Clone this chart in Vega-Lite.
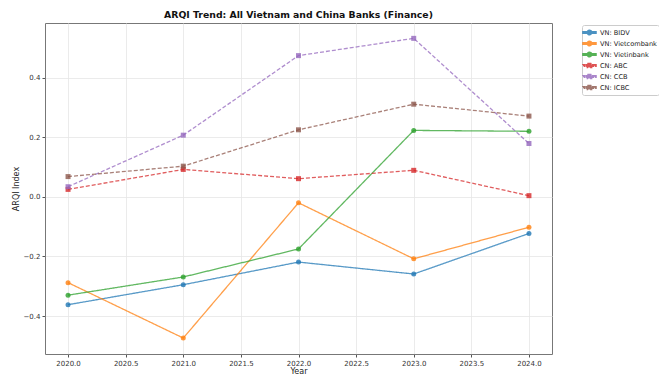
{
  "$schema": "https://vega.github.io/schema/vega-lite/v6.json",
  "width": 507,
  "height": 331,
  "autosize": {"type": "none"},
  "padding": {"left": 45, "top": 23, "right": 107, "bottom": 20},
  "background": "white",
  "config": {
    "font": "DejaVu Sans",
    "view": {"stroke": "#777", "strokeWidth": 1},
    "axis": {"labelFontSize": 7, "labelColor": "#333", "titleFontSize": 8, "titleFontWeight": "normal", "titleColor": "#222", "gridColor": "#e6e6e6", "gridWidth": 0.8, "domain": false, "tickColor": "#555", "tickSize": 3}
  },
  "title": {"text": "ARQI Trend: All Vietnam and China Banks (Finance)", "fontSize": 9.3, "fontWeight": "bold", "anchor": "middle", "offset": 3, "color": "#111"},
  "data": {"values": [
    {"Year": 2020, "Bank": "VN: BIDV", "ARQI": -0.362},
    {"Year": 2021, "Bank": "VN: BIDV", "ARQI": -0.295},
    {"Year": 2022, "Bank": "VN: BIDV", "ARQI": -0.219},
    {"Year": 2023, "Bank": "VN: BIDV", "ARQI": -0.259},
    {"Year": 2024, "Bank": "VN: BIDV", "ARQI": -0.123},
    {"Year": 2020, "Bank": "VN: Vietcombank", "ARQI": -0.288},
    {"Year": 2021, "Bank": "VN: Vietcombank", "ARQI": -0.474},
    {"Year": 2022, "Bank": "VN: Vietcombank", "ARQI": -0.020},
    {"Year": 2023, "Bank": "VN: Vietcombank", "ARQI": -0.208},
    {"Year": 2024, "Bank": "VN: Vietcombank", "ARQI": -0.102},
    {"Year": 2020, "Bank": "VN: Vietinbank", "ARQI": -0.330},
    {"Year": 2021, "Bank": "VN: Vietinbank", "ARQI": -0.269},
    {"Year": 2022, "Bank": "VN: Vietinbank", "ARQI": -0.175},
    {"Year": 2023, "Bank": "VN: Vietinbank", "ARQI": 0.223},
    {"Year": 2024, "Bank": "VN: Vietinbank", "ARQI": 0.220},
    {"Year": 2020, "Bank": "CN: ABC", "ARQI": 0.025},
    {"Year": 2021, "Bank": "CN: ABC", "ARQI": 0.092},
    {"Year": 2022, "Bank": "CN: ABC", "ARQI": 0.061},
    {"Year": 2023, "Bank": "CN: ABC", "ARQI": 0.089},
    {"Year": 2024, "Bank": "CN: ABC", "ARQI": 0.004},
    {"Year": 2020, "Bank": "CN: CCB", "ARQI": 0.034},
    {"Year": 2021, "Bank": "CN: CCB", "ARQI": 0.207},
    {"Year": 2022, "Bank": "CN: CCB", "ARQI": 0.474},
    {"Year": 2023, "Bank": "CN: CCB", "ARQI": 0.532},
    {"Year": 2024, "Bank": "CN: CCB", "ARQI": 0.179},
    {"Year": 2020, "Bank": "CN: ICBC", "ARQI": 0.068},
    {"Year": 2021, "Bank": "CN: ICBC", "ARQI": 0.103},
    {"Year": 2022, "Bank": "CN: ICBC", "ARQI": 0.225},
    {"Year": 2023, "Bank": "CN: ICBC", "ARQI": 0.311},
    {"Year": 2024, "Bank": "CN: ICBC", "ARQI": 0.271}
  ]},
  "encoding": {
    "x": {"field": "Year", "type": "quantitative", "scale": {"domain": [2019.8, 2024.2], "nice": false, "zero": false},
      "axis": {"values": [2020, 2020.5, 2021, 2021.5, 2022, 2022.5, 2023, 2023.5, 2024], "format": ".1f", "title": "Year", "titlePadding": 1}},
    "y": {"field": "ARQI", "type": "quantitative", "scale": {"domain": [-0.5275, 0.5835], "nice": false, "zero": false},
      "axis": {"values": [-0.4, -0.2, 0, 0.2, 0.4], "format": ".1f", "title": "ARQI Index", "titlePadding": 3}},
    "color": {"field": "Bank", "type": "nominal",
      "scale": {"domain": ["VN: BIDV", "VN: Vietcombank", "VN: Vietinbank", "CN: ABC", "CN: CCB", "CN: ICBC"],
        "range": ["#1f77b4", "#ff7f0e", "#2ca02c", "#d62728", "#9467bd", "#8c564b"]},
      "legend": {"title": null, "orient": "none", "legendX": 537, "legendY": 2, "labelFontSize": 6.6, "symbolSize": 81, "rowPadding": 0, "labelOffset": 5,
        "strokeColor": "#ccc", "fillColor": "white", "padding": 2, "cornerRadius": 2, "symbolOpacity": 0.8, "labelColor": "#222"}}
  },
  "layer": [
    {
      "mark": {"type": "line", "strokeWidth": 1.3, "opacity": 0.75},
      "encoding": {
        "strokeDash": {"field": "Bank", "type": "nominal",
          "scale": {"domain": ["VN: BIDV", "VN: Vietcombank", "VN: Vietinbank", "CN: ABC", "CN: CCB", "CN: ICBC"],
            "range": [[1, 0], [1, 0], [1, 0], [4, 2], [4, 2], [4, 2]]},
          "legend": null}
      }
    },
    {
      "transform": [{"filter": "indexof(datum.Bank, 'VN') == 0"}],
      "mark": {"type": "point", "filled": true, "size": 25, "opacity": 0.8, "shape": "circle"}
    },
    {
      "transform": [{"filter": "indexof(datum.Bank, 'CN') == 0"}],
      "mark": {"type": "point", "filled": true, "size": 25, "opacity": 0.8, "shape": "square"}
    },
    {
      "transform": [{"filter": "false"}],
      "mark": {"type": "point", "filled": true},
      "encoding": {
        "shape": {"field": "Bank", "type": "nominal",
          "scale": {"domain": ["VN: BIDV", "VN: Vietcombank", "VN: Vietinbank", "CN: ABC", "CN: CCB", "CN: ICBC"],
            "range": [
              "M-1.45,-0.14H-0.5V0.14H-1.45Z M0.5,-0.14H1.45V0.14H0.5Z M0.5,0A0.5,0.5 0 1,1 -0.5,0A0.5,0.5 0 1,1 0.5,0Z",
              "M-1.45,-0.14H-0.5V0.14H-1.45Z M0.5,-0.14H1.45V0.14H0.5Z M0.5,0A0.5,0.5 0 1,1 -0.5,0A0.5,0.5 0 1,1 0.5,0Z",
              "M-1.45,-0.14H-0.5V0.14H-1.45Z M0.5,-0.14H1.45V0.14H0.5Z M0.5,0A0.5,0.5 0 1,1 -0.5,0A0.5,0.5 0 1,1 0.5,0Z",
              "M-1.45,-0.14H-1.05V0.14H-1.45Z M-0.85,-0.14H-0.5V0.14H-0.85Z M0.5,-0.14H0.85V0.14H0.5Z M1.05,-0.14H1.45V0.14H1.05Z M-0.47,-0.47H0.47V0.47H-0.47Z",
              "M-1.45,-0.14H-1.05V0.14H-1.45Z M-0.85,-0.14H-0.5V0.14H-0.85Z M0.5,-0.14H0.85V0.14H0.5Z M1.05,-0.14H1.45V0.14H1.05Z M-0.47,-0.47H0.47V0.47H-0.47Z",
              "M-1.45,-0.14H-1.05V0.14H-1.45Z M-0.85,-0.14H-0.5V0.14H-0.85Z M0.5,-0.14H0.85V0.14H0.5Z M1.05,-0.14H1.45V0.14H1.05Z M-0.47,-0.47H0.47V0.47H-0.47Z"
            ]},
          "legend": {"title": null, "orient": "none", "legendX": 537, "legendY": 2, "labelFontSize": 6.6, "symbolSize": 81, "rowPadding": 0, "labelOffset": 5,
            "strokeColor": "#ccc", "fillColor": "white", "padding": 2, "cornerRadius": 2, "symbolOpacity": 0.8, "labelColor": "#222"}}
      }
    }
  ]
}
